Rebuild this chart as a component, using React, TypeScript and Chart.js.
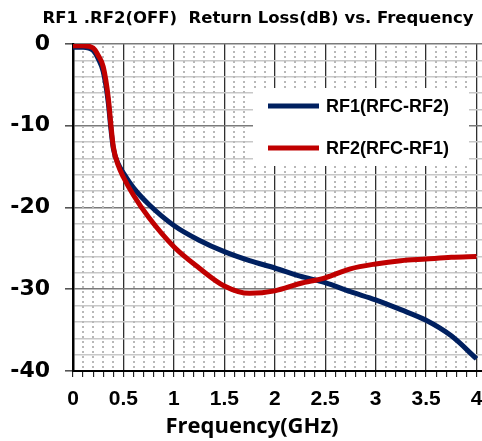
import React, { useEffect, useRef } from 'react';
import { Chart, registerables } from 'chart.js';
Chart.register(...registerables);

const TITLE = 'RF1 .RF2(OFF)  Return Loss(dB) vs. Frequency';
const X_TITLE = 'Frequency(GHz)';
const SERIES_NAMES = ['RF1(RFC-RF2)', 'RF2(RFC-RF1)'];
const SERIES_COLORS = ['#002060', '#C00000'];

const FREQ = [0, 0.1, 0.2, 0.25, 0.3, 0.35, 0.375, 0.4, 0.45, 0.5, 0.6, 0.75, 1.0, 1.25, 1.5, 1.75, 2.0, 2.25, 2.5, 2.75, 3.0, 3.25, 3.5, 3.75, 4.0];
const RF1 = [-0.4, -0.4, -0.8, -1.8, -3.4, -7.2, -10.3, -12.8, -14.7, -15.8, -17.6, -19.6, -22.2, -24.0, -25.4, -26.5, -27.4, -28.4, -29.2, -30.3, -31.3, -32.5, -33.8, -35.7, -38.5];
const RF2 = [-0.2, -0.2, -0.5, -1.4, -2.8, -6.6, -9.8, -12.6, -14.9, -16.3, -18.5, -21.2, -24.8, -27.4, -29.6, -30.5, -30.2, -29.3, -28.6, -27.5, -26.9, -26.5, -26.3, -26.1, -26.0];

const X_MIN = 0;
const X_MAX = 4.0545;
const X_STEP_MINOR = 0.1;
const X_COUNT = 40;
const Y_MIN = -40;
const Y_MAX = 0;
const Y_STEP_MINOR = 2;

const isMajorX = (v: number) => Math.abs(v * 2 - Math.round(v * 2)) < 1e-6;
const isMajorY = (v: number) => Math.abs(v / 10 - Math.round(v / 10)) < 1e-6;

const decorPlugin = {
  id: 'decor',
  beforeDatasetsDraw(chart: any) {
    const { ctx, chartArea: ca, scales } = chart;
    const x = scales.x;
    ctx.save();
    ctx.strokeStyle = '#b8b8b8';
    ctx.lineWidth = 2;
    ctx.setLineDash([2, 3]);
    for (const t of x.ticks) {
      if (isMajorX(t.value)) continue;
      const px = Math.round(x.getPixelForValue(t.value));
      ctx.beginPath();
      ctx.moveTo(px, ca.top + 2);
      ctx.lineTo(px, ca.bottom);
      ctx.stroke();
    }
    ctx.restore();
  },
  afterDatasetsDraw(chart: any) {
    const { ctx } = chart;
    ctx.save();
    ctx.fillStyle = '#ffffff';
    ctx.fillRect(253, 88, 216, 78);
    ctx.font = 'bold 18px "Liberation Sans", Arial, sans-serif';
    ctx.textBaseline = 'middle';
    ctx.textAlign = 'left';
    const rows = [106, 148];
    chart.data.datasets.forEach((ds: any, i: number) => {
      const y = rows[i];
      ctx.strokeStyle = ds.borderColor;
      ctx.lineWidth = 5;
      ctx.beginPath();
      ctx.moveTo(268, y);
      ctx.lineTo(319, y);
      ctx.stroke();
      ctx.fillStyle = '#000';
      ctx.fillText(ds.label, 326, y + 1);
    });
    ctx.restore();
  },
  afterDraw(chart: any) {
    const { ctx } = chart;
    ctx.save();
    ctx.fillStyle = '#000';
    ctx.textAlign = 'center';
    ctx.textBaseline = 'alphabetic';
    ctx.font = 'bold 16.5px "DejaVu Sans", sans-serif';
    ctx.fillText(TITLE, 258, 23);
    ctx.font = 'bold 22px "Open Sans", sans-serif';
    ctx.fillText(X_TITLE, 252, 433);
    ctx.restore();
  },
};

export default function App() {
  const ref = useRef<HTMLCanvasElement | null>(null);
  useEffect(() => {
    if (!ref.current) return;
    const xTicks = Array.from({ length: X_COUNT + 1 }, (_, i) => +(i * X_STEP_MINOR).toFixed(1));
    const yTicks: number[] = [];
    for (let v = Y_MIN; v <= Y_MAX; v += Y_STEP_MINOR) yTicks.push(v);
    const chart = new Chart(ref.current, {
      type: 'line',
      data: {
        datasets: [
          {
            label: SERIES_NAMES[0],
            data: FREQ.map((f, i) => ({ x: f, y: RF1[i] })),
            borderColor: SERIES_COLORS[0],
            backgroundColor: SERIES_COLORS[0],
            borderWidth: 5,
            pointRadius: 0,
            cubicInterpolationMode: 'monotone',
            order: 1,
          },
          {
            label: SERIES_NAMES[1],
            data: FREQ.map((f, i) => ({ x: f, y: RF2[i] })),
            borderColor: SERIES_COLORS[1],
            backgroundColor: SERIES_COLORS[1],
            borderWidth: 5,
            pointRadius: 0,
            cubicInterpolationMode: 'monotone',
            order: 0,
          },
        ],
      },
      options: {
        animation: false,
        responsive: false,
        devicePixelRatio: 1,
        layout: { padding: { top: 44, left: 0, right: 0, bottom: 0 } },
        plugins: {
          legend: { display: false },
          title: { display: false },
          tooltip: { enabled: false },
        },
        scales: {
          x: {
            type: 'linear',
            min: X_MIN,
            max: X_MAX,
            afterBuildTicks: (s: any) => {
              s.ticks = xTicks.map((v) => ({ value: v }));
            },
            afterFit: (s: any) => {
              s.height = 70;
              s.paddingLeft = 0;
              s.paddingRight = 0;
            },
            border: { color: '#000', width: 2 },
            grid: {
              color: (c: any) => (c.tick && isMajorX(c.tick.value) ? '#303030' : 'rgba(0,0,0,0)'),
              lineWidth: 1.3,
              tickColor: '#000',
              tickLength: 6,
              tickWidth: 1,
            },
            ticks: {
              autoSkip: false,
              maxRotation: 0,
              padding: 10,
              color: '#000',
              font: { family: '"Liberation Sans", Arial, sans-serif', weight: 'bold', size: 21 },
              callback: (v: any) => (isMajorX(Number(v)) ? String(+Number(v).toFixed(1)) : ''),
            },
          },
          y: {
            type: 'linear',
            min: Y_MIN,
            max: Y_MAX,
            afterBuildTicks: (s: any) => {
              s.ticks = yTicks.map((v) => ({ value: v }));
            },
            afterFit: (s: any) => {
              s.width = 73;
              s.paddingTop = 0;
              s.paddingBottom = 0;
            },
            border: { color: '#000', width: 2.5 },
            grid: {
              color: (c: any) => (c.tick && isMajorY(c.tick.value) ? '#7a7a7a' : '#c8c8c8'),
              lineWidth: 1.6,
              tickColor: (c: any) => (c.tick && isMajorY(c.tick.value) ? '#555' : 'rgba(0,0,0,0)'),
              tickLength: 8,
            },
            ticks: {
              autoSkip: false,
              padding: 15,
              color: '#000',
              font: { family: '"DejaVu Sans", sans-serif', weight: 'bold', size: 22 },
              callback: (v: any) => (isMajorY(Number(v)) ? String(Number(v)) : ''),
            },
          },
        },
      },
      plugins: [decorPlugin],
    } as any);
    return () => chart.destroy();
  }, []);
  return (
    <canvas
      ref={ref}
      width={482}
      height={441}
      style={{ position: 'absolute', left: 0, top: 0, display: 'block' }}
    />
  );
}
